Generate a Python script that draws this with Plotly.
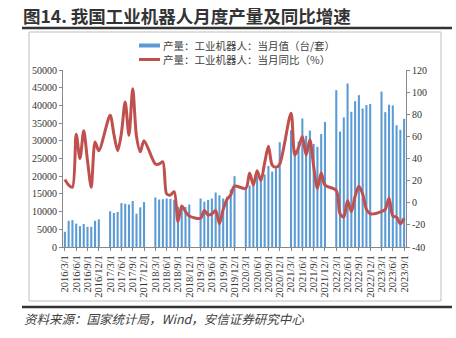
import plotly.graph_objects as go
import pandas as pd

# ---------------- data ----------------
months = [f"{d.year}/{d.month}/1" for d in pd.date_range("2016-03-01", "2023-09-01", freq="MS")]
tick_labels = months[::3]

# 产量：工业机器人：当月值（台/套） (Jan/Feb not reported)
units = [
    4300, 7400, 7600, 6600, 5900, 6500, 5700, 5700, 7400, 7800,                      # 2016 Mar-Dec
    None, None, 10100, 9600, 9900, 12400, 12200, 12000, 13000, 9400, 11200, 12700,   # 2017
    None, None, 14000, 13400, 13500, 13700, 13600, 13300, 11400, 10700, 11300, 12000,  # 2018
    None, None, 13700, 12800, 13300, 13700, 15400, 14600, 13700, 14200, 16200, 20000,  # 2019
    None, None, 16300, 17400, 18900, 20000, 18600, 20500, 22900, 21300, 22100, 29600,  # 2020
    None, None, 33000, 27500, 29800, 36300, 31400, 32900, 29100, 28300, 31900, 35300,  # 2021
    None, None, 44300, 32600, 36600, 46200, 38200, 41200, 42900, 39100, 40100, 40400,  # 2022
    None, None, 43900, 38100, 40200, 40000, 34400, 33100, 36200,                      # 2023 Jan-Sep
]

# 产量：工业机器人：当月同比（%）
yoy = [
    21, 16, 14, 62, 40, 65, 38, 14, 55, 47,                     # 2016
    None, None, 79, 62, 47, 63, 91, 61, 103, 60, 46, 56,        # 2017
    None, None, 35, 35, 37, 8, 7, 10, -17, -3, -8, -12,         # 2018
    None, None, -14, -7, -11, -10, -7, -19, -6, 3, 7, 15,       # 2019
    None, None, 13, 27, 16, 29, 20, 36, 51, 34, 32, 35,         # 2020
    None, None, 81, 43, 50, 60, 43, 57, 33, 13, 27, 16,         # 2021
    None, None, 11, -10, -13, 2, -8, 6, 15, 8, -6, -10,         # 2022
    None, None, -8, -6, 4, -12, -13, -19, -14,                  # 2023
]

y1_ticks = list(range(0, 50001, 5000))
y2_ticks = list(range(-40, 121, 20))
y2_text = [str(v) for v in y2_ticks]

title_text = "图14. 我国工业机器人月度产量及同比增速"
source_text = "资料来源：国家统计局，Wind，安信证券研究中心"
name_units = "产量：工业机器人：当月值（台/套）"
name_yoy = "产量：工业机器人：当月同比（%）"

# ---------------- layout helpers (pixel -> paper) ----------------
W, H = 456, 338
L, R, T, B = 63, 50, 70, 91
PW, PH = W - L - R, H - T - B


def px(x):
    return (x - L) / PW


def py(y):
    return (H - B - y) / PH


BLUE = "#5B9BD5"
RED = "#C0504D"
AX = "#898989"
TXT = "#333333"
serif = "Liberation Serif, Times New Roman, serif"
cjk = "Noto Sans CJK SC, sans-serif"

fig = go.Figure()
fig.add_trace(go.Bar(x=months, y=units, marker=dict(color=BLUE, line=dict(width=0)),
                     showlegend=False, name=name_units, yaxis="y"))
fig.add_trace(go.Scatter(x=months, y=yoy, yaxis="y2", mode="lines", name=name_yoy,
                         connectgaps=True, showlegend=False,
                         line=dict(color=RED, width=3, shape="spline", smoothing=0.8)))

legend_items = [(name_units, BLUE, 4, 45.5), (name_yoy, RED, 3, 59.5)]
shapes = [
    dict(type="rect", xref="paper", yref="paper", x0=px(29), x1=px(441), y0=py(301), y1=py(32),
         line=dict(color="#BFBFBF", width=1), layer="below"),
    dict(type="line", xref="paper", yref="paper", x0=px(22), x1=px(452), y0=py(28), y1=py(28),
         line=dict(color="#333333", width=2.5)),
    dict(type="line", xref="paper", yref="paper", x0=px(22), x1=px(452), y0=py(307), y1=py(307),
         line=dict(color="#333333", width=2.5)),
]
annotations = [
    dict(text="<b>" + title_text + "</b>", xref="paper", yref="paper", x=px(21), y=py(16),
         xanchor="left", yanchor="middle", showarrow=False,
         font=dict(family=cjk, size=17.5, color="#333333")),
    dict(text="<i>" + source_text + "</i>", xref="paper", yref="paper", x=px(22), y=py(318),
         xanchor="left", yanchor="middle", showarrow=False,
         font=dict(family=cjk, size=12.5, color="#404040")),
]
for name, col, wd, yy in legend_items:
    shapes.append(dict(type="line", xref="paper", yref="paper", x0=px(139), x1=px(160),
                       y0=py(yy), y1=py(yy), line=dict(color=col, width=wd)))
    annotations.append(dict(text=name, xref="paper", yref="paper", x=px(162), y=py(yy),
                            xanchor="left", yanchor="middle", showarrow=False, borderpad=0,
                            font=dict(family=cjk, size=10.5, color="#404040")))

fig.update_layout(
    width=W, height=H, autosize=False,
    margin=dict(l=L, r=R, t=T, b=B, pad=0),
    paper_bgcolor="white", plot_bgcolor="white",
    bargap=0.45, showlegend=False,
    font=dict(family=serif, size=10, color=TXT),
    xaxis=dict(type="category", categoryorder="array", categoryarray=months,
               range=[-0.5, len(months) - 0.5],
               tickmode="array", tickvals=tick_labels, ticktext=tick_labels,
               tickangle=-90, tickfont=dict(family=serif, size=10.5, color=TXT),
               showline=True, linecolor=AX, linewidth=1,
               ticks="outside", ticklen=3, tickcolor=AX, showgrid=False, zeroline=False),
    yaxis=dict(range=[0, 50000], tickmode="array", tickvals=y1_ticks,
               ticktext=[str(v) for v in y1_ticks],
               tickfont=dict(family=serif, size=10, color=TXT),
               showline=True, linecolor=AX, linewidth=1,
               ticks="outside", ticklen=3, tickcolor=AX, showgrid=False, zeroline=False),
    yaxis2=dict(range=[-40, 120], overlaying="y", side="right", tickmode="array",
                tickvals=y2_ticks, ticktext=y2_text,
                tickfont=dict(family=serif, size=10, color=TXT),
                showline=True, linecolor=AX, linewidth=1,
                ticks="outside", ticklen=3, tickcolor=AX, showgrid=False, zeroline=False),
    shapes=shapes,
    annotations=annotations,
)

fig.write_html("out.html")
